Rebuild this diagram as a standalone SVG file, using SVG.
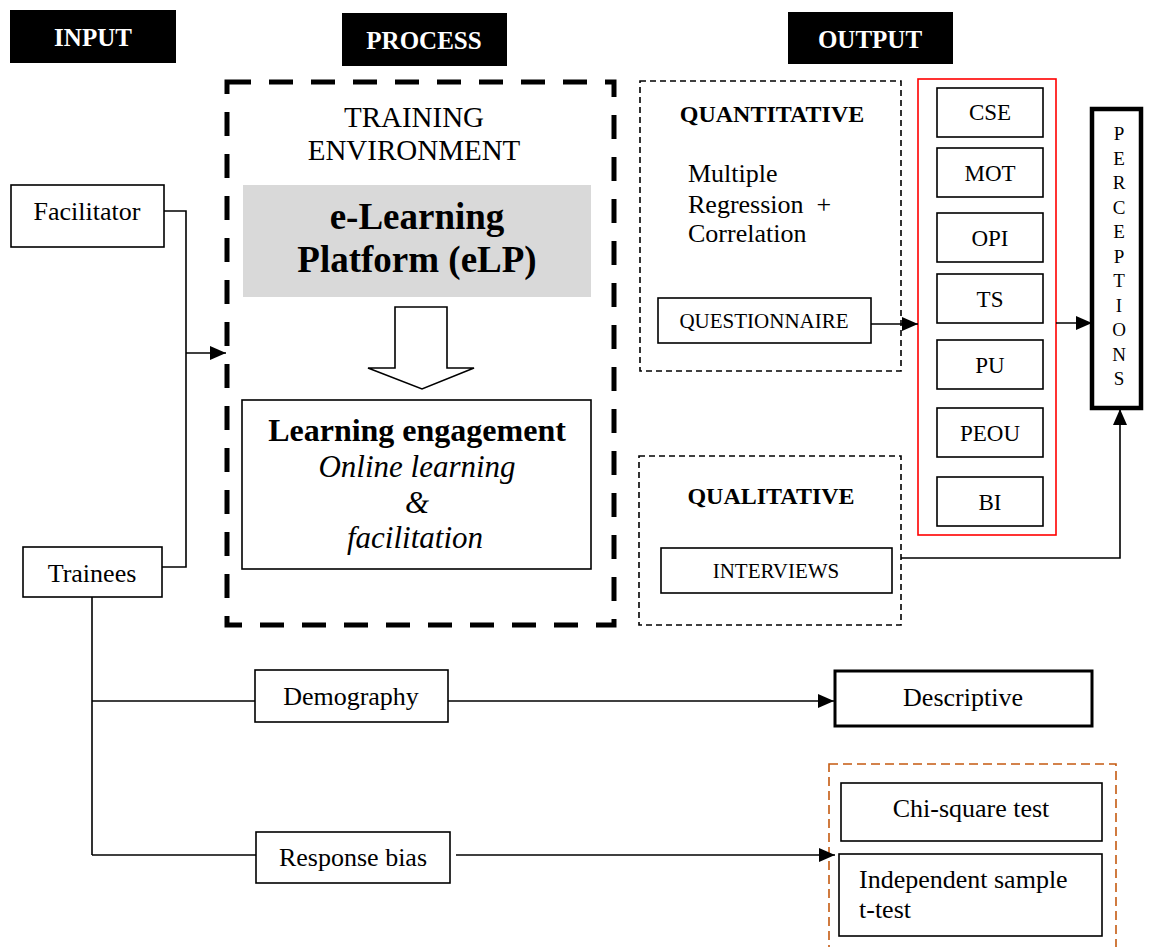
<svg xmlns="http://www.w3.org/2000/svg" width="1149" height="947" viewBox="0 0 1149 947">
<style>
text{font-family:"Liberation Serif","Times New Roman",serif;fill:#000}
.hdr{fill:#fff;font-weight:bold;font-size:25px;text-anchor:middle}
.box{fill:#fff;stroke:#000;stroke-width:1.6}
.c{text-anchor:middle}
.t26{font-size:26px}
.t23{font-size:23px}
.t21{font-size:21px}
.conn{fill:none;stroke:#000;stroke-width:1.6}
</style>
<defs>
<marker id="ah" viewBox="0 0 16 14" refX="16" refY="7" markerWidth="16" markerHeight="14" markerUnits="userSpaceOnUse" orient="auto"><path d="M0,0 L16,7 L0,14 z" fill="#000"/></marker>
</defs>
<rect width="1149" height="947" fill="#fff"/>

<g id="hdr-input"><rect x="10" y="10" width="166" height="53" fill="#000"/><text class="hdr" x="93" y="46">INPUT</text></g>
<g id="hdr-process"><rect x="342" y="13" width="165" height="53" fill="#000"/><text class="hdr" x="424" y="49">PROCESS</text></g>
<g id="hdr-output"><rect x="788" y="12" width="165" height="52" fill="#000"/><text class="hdr" x="870" y="48">OUTPUT</text></g>

<g id="facilitator"><rect class="box" x="11" y="185" width="153" height="62"/><text class="c t26" x="87" y="220">Facilitator</text></g>
<g id="trainees"><rect class="box" x="23" y="547" width="139" height="50"/><text class="c t26" x="92" y="582">Trainees</text></g>

<g id="process">
<rect x="227" y="82" width="387" height="543" fill="none" stroke="#000" stroke-width="5" stroke-dasharray="24 18"/>
<text class="c" font-size="29" x="414" y="127">TRAINING</text>
<text class="c" font-size="29" x="414" y="160">ENVIRONMENT</text>
</g>
<g id="elp"><rect x="243" y="185" width="348" height="112" fill="#d9d9d9"/>
<text class="c" font-size="37" font-weight="bold" x="417" y="229">e-Learning</text>
<text class="c" font-size="37" font-weight="bold" x="417" y="272">Platform (eLP)</text></g>
<g id="block-arrow"><path d="M395,307 H447 V368 H474 L422,389 L368,368 H395 Z" fill="#fff" stroke="#000" stroke-width="1.6"/></g>
<g id="engagement"><rect class="box" x="242" y="400" width="349" height="169"/>
<text class="c" font-size="32" font-weight="bold" x="417" y="441">Learning engagement</text>
<text class="c" font-size="31" font-style="italic" x="417" y="477">Online learning</text>
<text class="c" font-size="31" font-style="italic" x="417" y="513">&amp;</text>
<text class="c" font-size="31" font-style="italic" x="415" y="548">facilitation</text></g>

<g id="quantitative"><rect x="640" y="81" width="261" height="290" fill="none" stroke="#000" stroke-width="1.6" stroke-dasharray="6 4"/>
<text class="c" font-size="24" font-weight="bold" x="772" y="122">QUANTITATIVE</text>
<text class="t26" x="688" y="182">Multiple</text>
<text class="t26" x="688" y="213" xml:space="preserve">Regression  +</text>
<text class="t26" x="688" y="242">Correlation</text></g>
<g id="questionnaire"><rect class="box" x="658" y="298" width="213" height="45"/><text class="c t21" x="764" y="328">QUESTIONNAIRE</text></g>

<g id="qualitative"><rect x="639" y="456" width="262" height="169" fill="none" stroke="#000" stroke-width="1.6" stroke-dasharray="6 4"/>
<text class="c" font-size="24" font-weight="bold" x="771" y="504">QUALITATIVE</text></g>
<g id="interviews"><rect class="box" x="661" y="548" width="231" height="45"/><text class="c t21" x="776" y="578">INTERVIEWS</text></g>

<g id="constructs"><rect x="918" y="79" width="138" height="456" fill="none" stroke="#ff0000" stroke-width="1.6"/></g>
<g id="cse"><rect class="box" x="937" y="88" width="106" height="49"/><text class="c t23" x="990" y="120">CSE</text></g>
<g id="mot"><rect class="box" x="937" y="148" width="106" height="49"/><text class="c t23" x="990" y="181">MOT</text></g>
<g id="opi"><rect class="box" x="937" y="213" width="106" height="49"/><text class="c t23" x="990" y="246">OPI</text></g>
<g id="ts"><rect class="box" x="937" y="274" width="106" height="49"/><text class="c t23" x="990" y="307">TS</text></g>
<g id="pu"><rect class="box" x="937" y="340" width="106" height="49"/><text class="c t23" x="990" y="373">PU</text></g>
<g id="peou"><rect class="box" x="937" y="408" width="106" height="49"/><text class="c t23" x="990" y="441">PEOU</text></g>
<g id="bi"><rect class="box" x="937" y="477" width="106" height="49"/><text class="c t23" x="990" y="510">BI</text></g>

<g id="perceptions"><rect x="1092" y="109" width="49" height="299" fill="#fff" stroke="#000" stroke-width="4.5"/>
<text class="c" font-size="19" x="1119" y="140">P<tspan x="1119" dy="24.5">E</tspan><tspan x="1119" dy="24.5">R</tspan><tspan x="1119" dy="24.5">C</tspan><tspan x="1119" dy="24.5">E</tspan><tspan x="1119" dy="24.5">P</tspan><tspan x="1119" dy="24.5">T</tspan><tspan x="1119" dy="24.5">I</tspan><tspan x="1119" dy="24.5">O</tspan><tspan x="1119" dy="24.5">N</tspan><tspan x="1119" dy="24.5">S</tspan></text></g>

<g id="demography"><rect class="box" x="255" y="670" width="193" height="52"/><text class="c t26" x="351" y="705">Demography</text></g>
<g id="descriptive"><rect x="835" y="671" width="257" height="55" fill="#fff" stroke="#000" stroke-width="3"/><text class="c t26" x="963" y="706">Descriptive</text></g>
<g id="response-bias"><rect class="box" x="256" y="832" width="194" height="51"/><text class="c t26" x="353" y="866">Response bias</text></g>

<g id="tests"><rect x="829" y="764" width="287" height="200" fill="none" stroke="#c55a11" stroke-width="1.6" stroke-dasharray="9 5"/></g>
<g id="chi-square"><rect class="box" x="841" y="783" width="261" height="58" stroke-width="1.3"/><text class="c t26" x="971" y="817">Chi-square test</text></g>
<g id="t-test"><rect class="box" x="839" y="854" width="263" height="82" stroke-width="1.3"/><text class="t26" x="859" y="888">Independent sample</text><text class="t26" x="859" y="918">t-test</text></g>

<g id="connectors">
<path class="conn" d="M164,211 H186 V567 H162"/>
<path class="conn" d="M186,353 H226" marker-end="url(#ah)"/>
<path class="conn" d="M92,597 V855"/>
<path class="conn" d="M92,701 H255"/>
<path class="conn" d="M448,701 H834" marker-end="url(#ah)"/>
<path class="conn" d="M92,855 H256"/>
<path class="conn" d="M456,855 H835" marker-end="url(#ah)"/>
<path class="conn" d="M871,324 H918" marker-end="url(#ah)"/>
<path class="conn" d="M1056,323 H1092" marker-end="url(#ah)"/>
<path class="conn" d="M901,558 H1120 V409" marker-end="url(#ah)"/>
</g>
</svg>
